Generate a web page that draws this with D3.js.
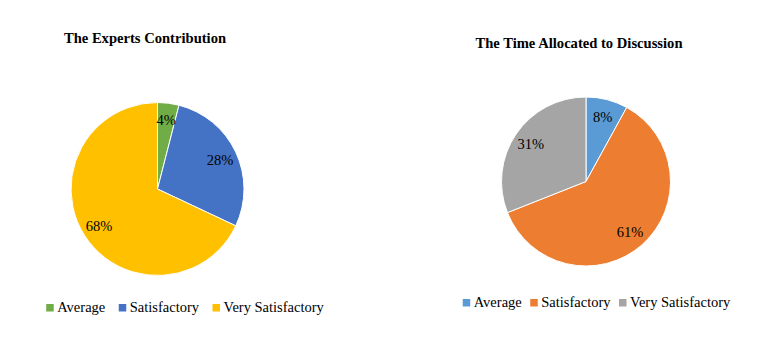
<!DOCTYPE html>
<html><head><meta charset="utf-8">
<script src="https://cdn.jsdelivr.net/npm/d3@7"></script>
<style>body{margin:0;background:#fff}svg{display:block}
svg text{font-family:"Liberation Serif","Times New Roman",Times,"DejaVu Serif",serif;}</style>
</head><body>
<svg id="c" width="761" height="364"></svg>
<script>
const categories = ["Average", "Satisfactory", "Very Satisfactory"];
const expertsValues = [4, 28, 68];
const timeValues = [8, 61, 31];
const expertsColors = ["#70AD47", "#4472C4", "#FFC000"];
const timeColors = ["#5B9BD5", "#ED7D31", "#A5A5A5"];
const titles = ["The Experts Contribution", "The Time Allocated to Discussion"];

const svg = d3.select("#c");

const charts = [
  {title: titles[0], values: expertsValues, colors: expertsColors, cx: 157.5, cy: 189, r: 86.5, titleX: 145, titleY: 43, legendX: 185, legendY: 312, gap: 13.5, labelK: 0.8},
  {title: titles[1], values: timeValues, colors: timeColors, cx: 586, cy: 181.5, r: 84.5, titleX: 579, titleY: 48, legendX: 596.5, legendY: 307, gap: 8.5, labelK: 0.79}
];

charts.forEach(ch => {
  const data = categories.map((c, i) => ({cat: c, value: ch.values[i], color: ch.colors[i]}));
  const pie = d3.pie().value(d => d.value).sort(null);
  const arcs = pie(data);
  const arc = d3.arc().innerRadius(0).outerRadius(ch.r);
  const labelArc = d3.arc().innerRadius(ch.r * ch.labelK).outerRadius(ch.r * ch.labelK);

  svg.append("text").attr("x", ch.titleX).attr("y", ch.titleY)
    .attr("text-anchor", "middle")
    .attr("font-weight", "bold").attr("font-size", 14.6).attr("fill", "#000")
    .text(ch.title);

  const g = svg.append("g").attr("transform", `translate(${ch.cx},${ch.cy})`);
  g.selectAll("path").data(arcs).join("path")
    .attr("d", arc).attr("fill", d => d.data.color)
    .attr("stroke", "#fff").attr("stroke-width", 1);
  g.selectAll("text").data(arcs).join("text")
    .attr("transform", d => `translate(${labelArc.centroid(d)})`)
    .attr("text-anchor", "middle").attr("dy", "0.35em")
    .attr("font-size", 14.5).attr("fill", "#000")
    .text(d => d.data.value + "%");

  // legend
  const lg = svg.append("g");
  const items = lg.selectAll("g").data(data).join("g");
  items.append("rect").attr("width", 7.5).attr("height", 7.5).attr("y", -8)
    .attr("fill", d => d.color);
  items.append("text").attr("x", 11).attr("font-size", 14.5)
    .attr("fill", "#000").text(d => d.cat);
  let x = 0;
  items.each(function() {
    const w = 11 + this.querySelector("text").getComputedTextLength();
    d3.select(this).attr("transform", `translate(${x},0)`);
    x += w + ch.gap;
  });
  const total = x - ch.gap;
  lg.attr("transform", `translate(${ch.legendX - total / 2},${ch.legendY})`);
});
</script>
</body></html>
